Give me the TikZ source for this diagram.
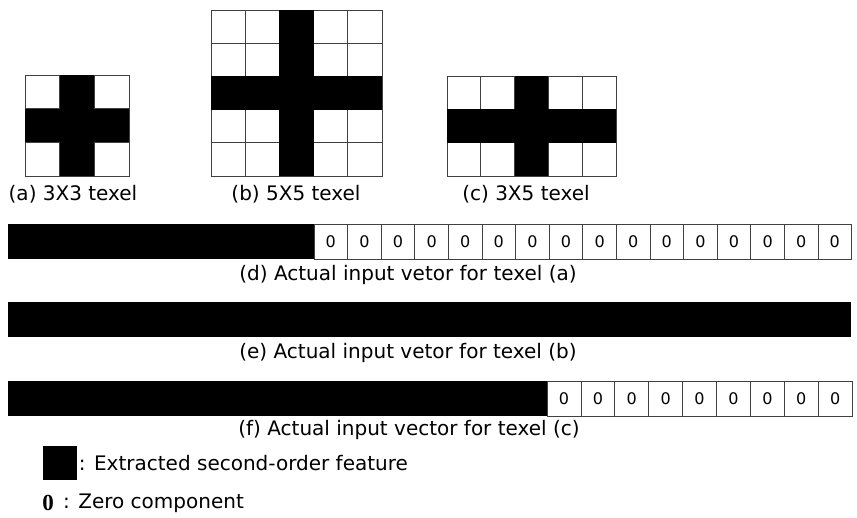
\documentclass[tikz,border=0pt]{standalone}
\usepackage{fontspec}
\setmainfont{DejaVu Sans}
\newfontfamily\keyserif{Liberation Serif}
\usetikzlibrary{positioning}

\tikzset{
  cellline/.style={draw=black!75, line width=0.7pt},
  zerocell/.style={draw=black!75, line width=0.7pt, minimum height=35pt, inner sep=0pt,
    font=\fontsize{16}{19}\selectfont},
  caption/.style={font=\fontsize{20}{24}\selectfont, inner sep=0pt},
}

\begin{document}
\begin{tikzpicture}[x=1pt, y=-1pt]
\useasboundingbox (0,0) rectangle (857,517);

% (a) 3X3 texel
\begin{scope}[shift={(25,75)}, x=34.67pt, y=-33.67pt]
  \foreach \c in {0,1,2} \foreach \r in {0,1,2} \draw[cellline] (\c,\r) rectangle ++(1,1);
  \fill (1,0) rectangle (2,3);
  \fill (0,1) rectangle (3,2);
\end{scope}
% (b) 5X5 texel
\begin{scope}[shift={(211,10)}, x=34.2pt, y=-33.2pt]
  \foreach \c in {0,...,4} \foreach \r in {0,...,4} \draw[cellline] (\c,\r) rectangle ++(1,1);
  \fill (2,0) rectangle (3,5);
  \fill (0,2) rectangle (5,3);
\end{scope}
% (c) 3X5 texel
\begin{scope}[shift={(447,76)}, x=33.8pt, y=-33.3pt]
  \foreach \c in {0,...,4} \foreach \r in {0,1,2} \draw[cellline] (\c,\r) rectangle ++(1,1);
  \fill (2,0) rectangle (3,3);
  \fill (0,1) rectangle (5,2);
\end{scope}

\node[caption] (capa) at (73,194) {(a) 3X3 texel};
\node[caption] (capb) at (296,194) {(b) 5X5 texel};
\node[caption] (capc) at (526,194) {(c) 3X5 texel};

% input vectors
\fill (8,224) rectangle (314,259);
\foreach \k in {1,...,16}
  \node[zerocell, minimum width=33.6pt] (d\k) at (314+\k*33.6-16.8,241.5) {0};
\node[caption] (capd) at (408,275) {(d) Actual input vetor for texel (a)};

\fill (8,302) rectangle (851,337);
\node[caption] (cape) at (408,353) {(e) Actual input vetor for texel (b)};

\fill (8,381) rectangle (547,416);
\foreach \k in {1,...,9}
  \node[zerocell, minimum width=33.9pt] (f\k) at (547+\k*33.9-16.95,398.5) {0};
\node[caption] (capf) at (409,430) {(f) Actual input vector for texel (c)};

% legend
\node[fill, minimum size=34pt, inner sep=0pt] (keyblk) at (59.5,463) {};
\node[caption, right=2pt of keyblk] (keyblktxt) {: Extracted second-order feature};
\node[font=\keyserif\bfseries\fontsize{23}{26}\selectfont, inner sep=0pt] (keyzero) at (48,503) {0};
\node[caption, right=9pt of keyzero] (keyzerotxt) {: Zero component};
\end{tikzpicture}
\end{document}
